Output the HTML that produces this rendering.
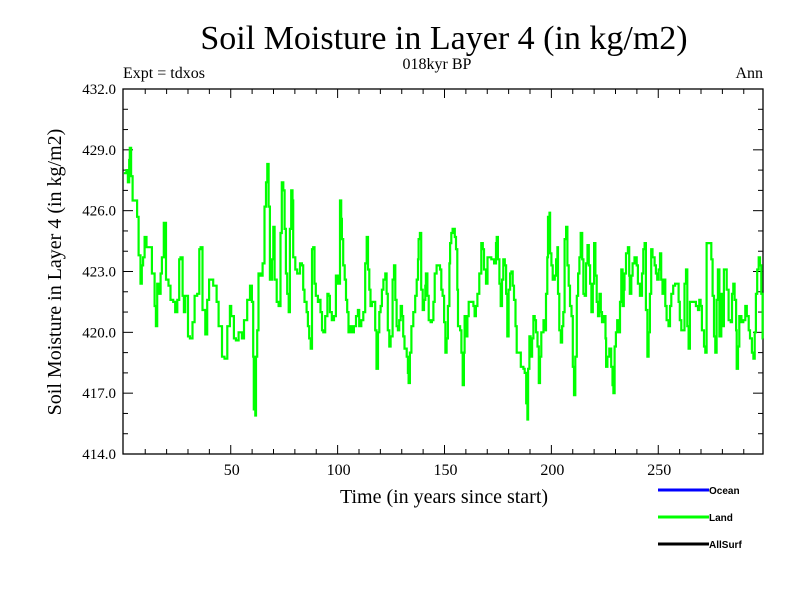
<!DOCTYPE html>
<html><head><meta charset="utf-8"><style>
html,body{margin:0;padding:0;background:#fff;width:800px;height:600px;overflow:hidden}
svg{display:block}
</style></head><body>
<svg id="chart" width="800" height="600" xmlns="http://www.w3.org/2000/svg" font-family="'Liberation Serif', serif">
<rect width="800" height="600" fill="#fff"/>
<text x="444" y="49" font-size="34" text-anchor="middle">Soil Moisture in Layer 4 (in kg/m2)</text>
<text x="437" y="69" font-size="16" text-anchor="middle">018kyr BP</text>
<text x="123" y="78" font-size="16">Expt = tdxos</text>
<text x="763" y="78" font-size="16" text-anchor="end">Ann</text>
<text x="444" y="503" font-size="20" text-anchor="middle">Time (in years since start)</text>
<text transform="translate(61,272) rotate(-90)" font-size="20" text-anchor="middle">Soil Moisture in Layer 4 (in kg/m2)</text>
<g id="axes"></g>
<g id="series"></g>
<g id="legend" font-family="'Liberation Sans', sans-serif" font-size="10" font-weight="bold"></g>
</svg>
<script>
const years = [0,1.2,1.9,2.5,2.8,3.4,4.1,5.6,6.2,6.9,7.8,8.4,9.0,9.7,10.6,12.2,13.1,14.4,15.0,15.6,16.5,17.2,17.8,18.7,19.7,20.9,21.8,23.1,24.0,25.0,25.9,26.5,27.5,28.1,28.7,30.0,30.9,32.1,33.1,34.3,35.3,35.9,36.8,38.1,39.0,39.9,41.8,43.4,44.3,45.9,47.1,48.4,49.6,50.2,51.5,52.4,53.7,55.2,56.2,57.7,59.0,59.9,60.5,60.8,61.5,61.8,62.4,63.0,63.9,64.9,65.8,66.5,67.1,67.7,68.3,69.3,69.9,70.5,71.5,72.4,73.3,73.9,74.6,75.2,75.8,76.4,77.1,77.7,78.3,78.9,79.2,80.2,81.1,82.4,83.3,83.9,84.5,85.5,86.1,86.7,87.4,88.0,88.6,89.2,89.8,90.8,91.4,92.0,92.7,93.3,94.2,95.2,95.8,96.4,97.3,98.3,99.2,100.1,101.1,101.7,102.0,102.6,103.3,103.9,104.5,105.1,105.8,106.7,107.6,108.6,109.5,110.1,111.1,112.0,112.9,113.6,114.2,114.8,115.4,116.1,116.7,117.6,118.2,118.9,119.5,120.1,120.7,121.4,122.3,122.9,123.5,124.2,124.8,125.7,126.4,127.0,127.6,128.2,128.8,129.5,130.1,130.7,131.3,132.3,132.9,133.2,133.8,134.5,135.4,136.3,137.0,137.6,137.9,138.5,139.1,139.8,140.4,141.0,141.3,142.0,142.6,143.5,144.1,144.8,145.4,146.3,147.3,147.9,148.5,149.1,149.8,150.4,151.0,151.6,152.3,152.6,153.2,153.8,154.8,155.4,156.0,156.3,157.3,157.9,158.5,159.1,159.4,160.1,160.7,161.3,162.6,163.5,164.1,164.7,165.4,166.3,167.2,167.9,168.5,169.4,170.1,171.0,171.9,173.2,174.1,174.4,175.0,175.7,176.3,176.9,177.5,178.2,178.8,179.4,180.0,180.7,181.3,181.9,182.5,183.2,183.8,185.0,185.7,186.9,187.5,188.2,188.8,189.1,189.7,190.3,191.0,191.6,192.2,192.8,193.5,194.1,194.7,195.3,196.3,196.9,197.5,198.1,198.4,199.1,199.4,200.0,200.6,201.6,202.2,202.8,203.1,203.7,204.4,205.0,205.6,206.2,206.9,207.5,208.1,208.7,209.4,210.0,210.6,211.2,211.9,212.5,213.1,213.7,214.4,215.0,215.6,216.2,216.9,217.5,218.1,218.7,219.4,220.0,220.6,221.2,221.8,222.5,223.1,223.7,224.6,225.3,225.6,226.2,227.1,228.0,228.6,229.0,229.6,230.2,230.8,231.4,232.1,232.7,233.3,233.9,234.2,234.9,235.8,236.4,236.7,237.4,238.0,238.9,239.9,240.5,241.4,242.4,243.0,243.6,244.2,244.9,245.5,246.1,246.7,247.3,248.3,248.9,249.5,250.2,250.8,251.4,252.0,252.7,253.3,253.9,254.8,255.5,256.1,257.0,257.9,258.9,259.5,260.1,260.8,261.7,262.3,263.0,263.6,264.2,264.8,265.8,266.7,267.6,268.6,269.2,269.8,270.4,271.4,272.0,272.6,274.2,274.8,275.4,276.1,276.7,277.3,277.9,278.6,279.5,280.1,280.7,281.4,282.0,282.9,283.9,284.5,285.1,285.7,286.4,286.7,287.3,287.9,288.9,289.8,290.7,291.4,292.3,292.9,293.8,294.5,295.1,295.7,296.3,297.0,297.6,298.2,298.8];
const landValues = [427.85,428.0,427.4,428.5,429.1,427.7,426.5,426.5,425.7,423.8,422.4,423.3,423.7,424.7,424.2,424.2,422.9,421.3,420.3,422.4,421.9,422.9,423.7,425.4,422.6,422.3,421.6,421.5,421.0,421.6,423.6,423.7,421.8,421.0,421.8,419.8,419.7,420.5,421.8,421.9,424.1,424.2,421.1,419.9,421.6,422.6,422.3,421.5,420.3,418.8,418.7,420.3,421.3,420.8,419.7,419.6,420.0,419.7,420.6,421.6,422.3,421.5,418.8,416.2,415.9,418.8,420.1,422.9,422.8,423.4,426.2,427.4,428.3,426.2,422.6,423.6,425.2,422.6,421.5,421.3,424.9,427.4,427.0,425.1,422.9,421.9,421.0,425.1,427.0,426.5,423.7,423.1,422.9,423.4,423.3,422.1,421.5,421.0,420.3,419.7,419.2,424.1,424.2,422.4,421.8,421.5,421.6,421.0,420.1,420.0,420.8,421.9,421.8,421.0,420.6,420.8,422.8,422.4,426.5,425.6,424.6,423.3,422.6,421.6,421.0,420.0,420.3,420.0,420.3,420.8,421.1,420.3,420.6,421.0,423.4,424.7,423.1,422.1,421.3,421.5,421.5,420.1,418.2,420.0,421.0,421.3,422.1,422.6,422.9,421.9,420.1,419.3,419.8,422.6,423.3,421.6,420.3,420.1,420.6,421.3,420.8,419.8,419.2,418.8,418.0,417.5,419.0,420.3,421.0,421.8,422.6,423.6,424.6,424.9,422.1,421.1,421.6,422.3,422.9,421.8,420.6,420.5,420.6,421.5,422.9,423.3,423.3,423.1,422.1,421.8,420.5,419.0,419.7,421.3,423.4,424.4,424.9,425.1,424.7,424.1,422.1,420.3,420.1,419.0,417.4,419.0,420.8,419.8,420.8,421.5,421.5,421.3,420.8,421.3,421.9,422.9,424.4,424.1,423.1,422.4,423.7,423.7,423.6,423.4,424.4,424.7,423.6,422.4,421.3,422.6,423.6,423.3,421.9,419.8,422.1,422.9,423.0,422.3,421.6,420.3,419.0,419.0,418.3,418.2,418.0,416.5,415.7,418.2,419.8,418.8,419.7,420.8,420.6,420.0,419.3,417.5,418.8,420.0,420.6,420.1,421.9,423.7,425.7,425.9,423.9,423.3,422.6,422.8,423.6,424.2,421.9,420.1,419.5,420.3,421.0,424.6,425.2,423.3,422.3,421.3,420.8,418.3,416.9,418.8,421.8,422.9,423.7,424.9,423.6,421.9,421.8,423.4,424.3,423.3,422.4,421.0,422.4,424.4,422.8,421.5,420.8,421.9,421.0,420.5,420.8,419.7,418.3,418.8,419.2,418.3,417.4,417.0,419.3,420.0,420.6,420.0,421.5,423.1,421.3,422.1,422.9,423.9,424.2,422.8,421.9,422.8,423.4,423.7,423.3,422.4,421.8,422.9,424.1,424.4,421.1,418.8,420.0,421.9,424.1,423.7,423.3,422.9,422.6,423.1,423.9,422.6,421.9,422.6,421.3,420.6,420.3,421.3,421.9,422.3,422.4,422.4,421.5,420.6,420.1,420.1,422.4,423.1,420.3,419.2,421.5,421.5,421.5,421.3,421.1,421.6,421.3,420.1,419.3,419.0,424.4,424.4,423.6,421.8,419.8,419.0,421.6,423.1,419.8,421.9,420.3,423.1,423.1,422.1,420.6,420.5,421.9,422.4,421.6,420.1,418.2,419.3,420.8,420.5,420.6,421.3,420.8,420.1,419.7,419.0,418.7,420.0,421.9,423.1,423.7,423.3,421.9,419.7];
const xMajorTicks = [50,100,150,200,250];
const xMinorTicks = [10,20,30,40,60,70,80,90,110,120,130,140,160,170,180,190,210,220,230,240,260,270,280,290];
const yMajorTicks = [414,417,420,423,426,429,432];
const yMinorTicks = [415,416,418,419,421,422,424,425,427,428,430,431];
const yTickLabels = ["414.0","417.0","420.0","423.0","426.0","429.0","432.0"];
const legendNames = ["Ocean","Land","AllSurf"];
const legendColors = ["#0000ff","#00ff00","#000000"];

const NS="http://www.w3.org/2000/svg";
const L=123,R=763,T=89,B=454, X0=-0.4, X1=299.0, Y0=414, Y1=432;
const xs=v=>L+(v-X0)/(X1-X0)*(R-L);
const ys=v=>B-(v-Y0)/(Y1-Y0)*(B-T);
function mk(tag,attrs,parent){const e=document.createElementNS(NS,tag);for(const k in attrs)e.setAttribute(k,attrs[k]);parent.appendChild(e);return e;}
const axes=document.getElementById('axes');
const frame=mk('rect',{x:L,y:T,width:R-L,height:B-T,fill:'none',stroke:'#000','stroke-width':1.3},axes);


xMajorTicks.forEach(v=>{const x=xs(v);
 mk('line',{x1:x,y1:B,x2:x,y2:B-9,stroke:'#000'},axes);
 mk('line',{x1:x,y1:T,x2:x,y2:T+9,stroke:'#000'},axes);
 const t=mk('text',{x:x+1,y:B+21,'font-size':16,'text-anchor':'middle'},axes);t.textContent=v;
 
 
});
xMinorTicks.forEach(v=>{const x=xs(v);
 mk('line',{x1:x,y1:B,x2:x,y2:B-5,stroke:'#000'},axes);
 mk('line',{x1:x,y1:T,x2:x,y2:T+5,stroke:'#000'},axes);
});
yMajorTicks.forEach((v,i)=>{const y=ys(v);
 mk('line',{x1:L,y1:y,x2:L+10,y2:y,stroke:'#000'},axes);
 mk('line',{x1:R,y1:y,x2:R-10,y2:y,stroke:'#000'},axes);
 const t=mk('text',{x:116,y:y+5,'font-size':15,'text-anchor':'end'},axes);t.textContent=yTickLabels[i];
 
 
});
yMinorTicks.forEach(v=>{const y=ys(v);
 mk('line',{x1:L,y1:y,x2:L+5,y2:y,stroke:'#000'},axes);
 mk('line',{x1:R,y1:y,x2:R-5,y2:y,stroke:'#000'},axes);
});
const series=document.getElementById('series');
let d='';years.forEach((yr,i)=>{
 const x=xs(yr).toFixed(1), y=ys(landValues[i]).toFixed(1);
 if(i===0) d+='M'+x+','+y; else d+='H'+x+'V'+y;
});
d+='H'+R;
const line=mk('path',{d:d,fill:'none',stroke:'#00ff00','stroke-width':2.2,'stroke-linejoin':'miter'},series);


const lg=document.getElementById('legend');
legendNames.forEach((n,i)=>{const y=490+i*27;
 const g=mk('g',{},lg);
 
 
 mk('line',{x1:658,y1:y,x2:709,y2:y,stroke:legendColors[i],'stroke-width':3},g);
 const t=mk('text',{x:709,y:y+4},g);t.textContent=n;
});
</script>
</body></html>
